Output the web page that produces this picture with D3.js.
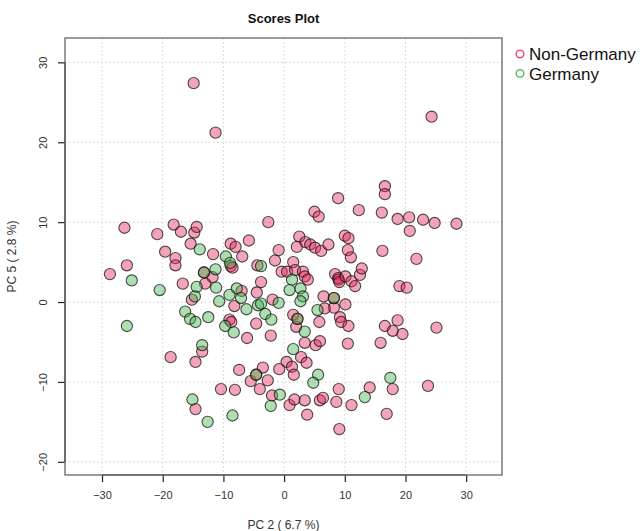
<!DOCTYPE html>
<html>
<head>
<meta charset="utf-8">
<script src="https://cdnjs.cloudflare.com/ajax/libs/d3/7.8.5/d3.min.js"></script>
<style>
  body { margin: 0; background: #fff; }
  #chart { width: 640px; height: 531px; }
  text { font-family: "Liberation Sans", Arial, sans-serif; }
</style>
</head>
<body>
<div id="chart"></div>
<script>

// PC2 / PC5 scores
var nonGermany = [
  [-14.9,27.4],[-11.3,21.2],[24.3,23.2],
  [16.6,14.5],[16.6,13.5],[8.9,13.0],[12.3,11.5],[16.1,11.2],[5.0,11.3],[5.7,10.7],
  [18.7,10.4],[20.6,10.6],[22.9,10.3],[24.8,9.9],[28.4,9.8],[20.7,8.9],[-2.6,10.0],
  [-26.3,9.3],[-20.9,8.5],[-18.2,9.7],[-17.0,8.8],[-14.8,8.7],[-14.4,9.4],[-15.4,7.3],
  [-19.6,6.3],[-17.9,5.5],[-17.9,4.6],[-25.9,4.6],[-28.7,3.5],[-16.7,2.3],
  [-11.7,6.0],[-8.8,7.3],[-8.0,6.9],[-5.8,7.7],[-6.9,5.7],[-8.8,4.5],[-8.5,4.3],
  [-11.8,3.1],[-13.0,2.3],[-15.2,0.3],
  [-0.9,6.5],[-1.5,5.2],[-4.4,4.6],[-3.8,2.5],[-4.5,1.2],[-7.0,1.4],[-8.2,-0.5],[-1.9,0.3],
  [1.5,5.0],[2.5,8.2],[2.1,6.9],[3.5,7.5],[4.3,7.2],[5.1,6.8],[6.1,6.4],[7.3,7.2],
  [-0.4,3.8],[0.5,3.8],[1.8,4.0],[3.1,3.8],[3.4,3.2],[3.9,2.8],
  [10.0,8.3],[10.6,8.0],[10.5,6.5],[11.0,5.6],[8.4,3.5],[8.9,3.0],[9.0,2.8],[9.1,2.5],
  [10.1,3.2],[11.1,2.6],[11.7,2.0],[12.5,3.4],[12.8,4.2],
  [16.2,6.4],[21.8,5.4],[19.0,2.0],[20.2,1.8],
  [6.5,0.7],[10.1,-0.3],[8.2,-0.7],[6.7,-0.8],[1.5,-1.6],[2.0,-3.1],[5.8,-2.5],
  [9.2,-1.9],[9.4,-2.5],[10.6,-3.0],
  [3.4,-5.1],[5.2,-5.4],[5.9,-4.9],[10.5,-5.2],
  [16.6,-3.0],[17.9,-3.6],[18.7,-2.3],[19.5,-4.0],[15.9,-5.1],[25.1,-3.2],
  [-9.0,-2.2],[-8.7,-2.5],[-4.6,-2.7],[-6.1,-4.5],[-2.2,-4.2],
  [-13.5,-6.2],[-18.7,-6.9],[-14.6,-7.5],
  [2.8,-6.9],[3.7,-7.6],[0.4,-7.5],[1.3,-8.1],[1.6,-9.1],[-0.8,-8.4],[-3.5,-8.2],
  [-7.4,-8.5],[-2.7,-9.8],[-5.5,-9.9],[-4.0,-10.9],[-10.4,-10.9],[-8.1,-11.0],[-2.0,-11.7],
  [0.9,-12.9],[1.7,-12.2],[3.4,-12.3],[5.9,-12.3],[6.4,-12.0],[8.6,-12.5],[9.0,-10.9],
  [11.1,-12.9],[3.8,-14.1],[9.1,-15.9],
  [14.1,-10.7],[17.9,-10.9],[16.9,-14.0],[23.7,-10.5],[-14.6,-13.4],
  [-13.2,3.7],[-4.6,-9.1],[2.2,-2.1],[8.2,0.5]
];

var germany = [
  [-13.9,6.6],[-9.6,5.7],[-8.9,4.9],[-3.8,4.5],[-25.1,2.7],[-20.5,1.5],[-13.2,3.7],
  [-11.3,4.1],[-14.4,1.9],[-11.2,1.8],[-14.7,0.7],[-16.3,-1.2],[-15.5,-2.1],[-14.6,-2.5],
  [-12.5,-1.9],[-25.9,-3.0],
  [-7.8,1.7],[-9.0,0.9],[-7.1,0.5],[-10.7,0.1],[-6.2,-0.9],[-4.3,-0.4],[-3.8,-0.2],
  [-3.1,-1.5],[-2.1,-2.2],[-0.9,-0.1],[-9.7,-3.0],[-8.3,-3.8],
  [1.3,2.8],[0.9,1.5],[2.7,1.7],[3.1,0.7],[2.7,0.1],[8.2,0.5],[5.5,-1.0],[2.2,-2.1],[3.4,-3.7],
  [-13.5,-5.4],[1.5,-5.9],[5.6,-9.1],[4.8,-10.1],[-4.6,-9.1],[-0.7,-11.6],[-2.2,-13.0],
  [13.3,-11.9],[17.5,-9.5],[-15.1,-12.2],[-12.6,-15.0],[-8.5,-14.2]
];

var groupNames = ["Non-Germany", "Germany"];
var xTicks = [-30, -20, -10, 0, 10, 20, 30];
var yTicks = [-20, -10, 0, 10, 20, 30];

var groupFill = {
  "Non-Germany": "rgba(232, 36, 88, 0.42)",
  "Germany": "rgba(60, 178, 72, 0.42)"
};
var groupLine = {
  "Non-Germany": "#e8507a",
  "Germany": "#5cc06a"
};

var margin = { top: 38, right: 138, bottom: 56, left: 65 },
  width = 640 - margin.left - margin.right,
  height = 531 - margin.top - margin.bottom;

var svg = d3.select("#chart").append("svg")
  .attr("width", 640)
  .attr("height", 531);

var g = svg.append("g")
  .attr("transform", "translate(" + margin.left + "," + margin.top + ")");

var xScale = d3.scaleLinear()
  .domain([-36.1, 35.9])
  .range([0, width]);

var yScale = d3.scaleLinear()
  .domain([-21.65, 33.05])
  .range([height, 0]);

// dotted grid
g.append("g")
  .selectAll("line")
  .data(xTicks)
  .enter().append("line")
  .attr("x1", function(d) { return xScale(d); })
  .attr("x2", function(d) { return xScale(d); })
  .attr("y1", 0)
  .attr("y2", height)
  .attr("stroke", "#d0d0d0")
  .attr("stroke-dasharray", "1.5,2.5");

g.append("g")
  .selectAll("line")
  .data(yTicks)
  .enter().append("line")
  .attr("x1", 0)
  .attr("x2", width)
  .attr("y1", function(d) { return yScale(d); })
  .attr("y2", function(d) { return yScale(d); })
  .attr("stroke", "#d0d0d0")
  .attr("stroke-dasharray", "1.5,2.5");

// axes (R style: line spans first to last tick only)
var xAxis = g.append("g")
  .attr("transform", "translate(0," + height + ")")
  .call(d3.axisBottom(xScale).tickValues(xTicks).tickSize(7).tickPadding(9).tickSizeOuter(0));

var yAxis = g.append("g")
  .call(d3.axisLeft(yScale).tickValues(yTicks).tickSize(7).tickPadding(9).tickSizeOuter(0));

xAxis.select(".domain")
  .attr("d", "M" + xScale(xTicks[0]) + ",0H" + xScale(xTicks[xTicks.length - 1]));
yAxis.select(".domain")
  .attr("d", "M0," + yScale(yTicks[0]) + "V" + yScale(yTicks[yTicks.length - 1]));

xAxis.selectAll(".domain, .tick line").attr("stroke", "#222").attr("stroke-width", 1.2);
yAxis.selectAll(".domain, .tick line").attr("stroke", "#222").attr("stroke-width", 1.2);

xAxis.selectAll("text")
  .attr("font-family", "Liberation Sans, Arial, sans-serif")
  .attr("font-size", 11)
  .attr("fill", "#333");

yAxis.selectAll(".tick text")
  .attr("font-family", "Liberation Sans, Arial, sans-serif")
  .attr("font-size", 11)
  .attr("fill", "#333")
  .attr("text-anchor", "middle")
  .attr("dy", 0)
  .attr("x", 0)
  .attr("transform", "translate(-18,0) rotate(-90)");

// points
var pts = g.append("g");

function drawGroup(data, name) {
  pts.selectAll("circle." + name.replace("-", ""))
    .data(data)
    .enter().append("circle")
    .attr("class", name.replace("-", ""))
    .attr("cx", function(d) { return xScale(d[0]); })
    .attr("cy", function(d) { return yScale(d[1]); })
    .attr("r", 5.6)
    .attr("fill", groupFill[name])
    .attr("stroke", "rgba(20, 20, 20, 0.75)")
    .attr("stroke-width", 1.1);
}

drawGroup(nonGermany, groupNames[0]);
drawGroup(germany, groupNames[1]);

// box
g.append("rect")
  .attr("x", 0)
  .attr("y", 0)
  .attr("width", width)
  .attr("height", height)
  .attr("fill", "none")
  .attr("stroke", "#666")
  .attr("stroke-width", 1.3);

// title & axis labels
svg.append("text")
  .attr("x", margin.left + width / 2)
  .attr("y", 23)
  .attr("text-anchor", "middle")
  .attr("font-size", 13)
  .attr("font-weight", "bold")
  .attr("fill", "#111")
  .text("Scores Plot");

svg.append("text")
  .attr("x", margin.left + width / 2)
  .attr("y", 529)
  .attr("text-anchor", "middle")
  .attr("font-size", 12)
  .attr("fill", "#333")
  .text("PC 2 ( 6.7 %)");

svg.append("text")
  .attr("transform", "translate(16," + (margin.top + height / 2) + ") rotate(-90)")
  .attr("text-anchor", "middle")
  .attr("font-size", 12)
  .attr("fill", "#333")
  .text("PC 5 ( 2.8 %)");

// legend
var legend = svg.append("g")
  .selectAll("g")
  .data(groupNames)
  .enter().append("g")
  .attr("transform", function(d, i) {
    return "translate(520," + (54 + i * 19.5) + ")";
  });

legend.append("circle")
  .attr("r", 3.8)
  .attr("fill", "none")
  .attr("stroke", function(d) { return groupLine[d]; })
  .attr("stroke-width", 1.6);

legend.append("text")
  .attr("x", 9)
  .attr("y", 6)
  .attr("font-size", 17)
  .attr("fill", "#111")
  .text(function(d) { return d; });

</script>
</body>
</html>
